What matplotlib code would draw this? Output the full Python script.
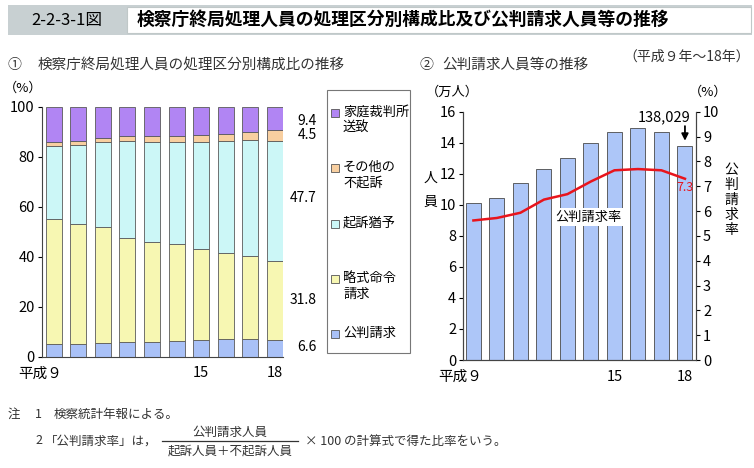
import matplotlib
matplotlib.use("Agg")
import matplotlib.pyplot as plt
import matplotlib.transforms as mtransforms
from matplotlib.patches import Rectangle
from matplotlib.lines import Line2D

plt.rcParams['font.family'] = ['Noto Sans CJK JP', 'DejaVu Sans']

# ---- data ----
years = ['平成９', '10', '11', '12', '13', '14', '15', '16', '17', '18']
kohan = [4.9, 4.9, 5.5, 5.9, 5.9, 6.4, 6.7, 6.9, 6.9, 6.6]          # 公判請求
ryakushiki = [50.3, 48.3, 46.5, 41.7, 40.1, 38.8, 36.2, 34.4, 33.5, 31.8]  # 略式命令請求
yuyo = [29.2, 31.3, 33.7, 38.5, 39.9, 40.5, 43.1, 44.8, 46.1, 47.7]  # 起訴猶予
sonota = [1.6, 1.6, 1.6, 2.0, 2.2, 2.4, 2.5, 3.1, 3.5, 4.5]          # その他の不起訴
katei = [14.0, 13.9, 12.7, 11.9, 11.9, 11.9, 11.5, 10.8, 10.0, 9.4]  # 家庭裁判所送致

persons = [10.14, 10.44, 11.40, 12.33, 13.04, 14.00, 14.69, 14.95, 14.67, 13.80]  # 万人
persons_last = 138029
rate = [5.62, 5.72, 5.93, 6.46, 6.68, 7.19, 7.64, 7.69, 7.64, 7.30]  # 公判請求率 (%)

series = [kohan, ryakushiki, yuyo, sonota, katei]
names = ['公判請求', '略式命令\n請求', '起訴猶予', 'その他の\n不起訴', '家庭裁判所\n送致']
colors = ['#a9c1f7', '#f7f7b2', '#ccf7f7', '#f8cfa0', '#b185f3']

W, H = 754, 468
fig = plt.figure(figsize=(W / 100, H / 100), dpi=100)


def fx(x):
    return x / W


def fy(y):
    return 1 - y / H


# ---- header ----
fig.patches.append(Rectangle((fx(8), fy(35)), fx(744), 30 / H, transform=fig.transFigure,
                             facecolor='#c8d0d2', edgecolor='none'))
fig.patches.append(Rectangle((fx(127), fy(33)), fx(624), 26 / H, transform=fig.transFigure,
                             facecolor='white', edgecolor='#c0c8c8', lw=0.8))
fig.text(fx(67), fy(20), '2-2-3-1図', ha='center', va='center', fontsize=12)
fig.text(fx(137), fy(20), '検察庁終局処理人員の処理区分別構成比及び公判請求人員等の推移',
         ha='left', va='center', fontsize=12.8, fontweight='bold')
fig.text(fx(7), fy(65), '①', ha='left', va='center', fontsize=10, color='#333333')
fig.text(fx(38), fy(65), '検察庁終局処理人員の処理区分別構成比の推移', ha='left', va='center',
         fontsize=10.5, color='#333333')
fig.text(fx(420), fy(65), '②', ha='left', va='center', fontsize=10, color='#333333')
fig.text(fx(442), fy(65), '公判請求人員等の推移', ha='left', va='center',
         fontsize=10.5, color='#333333')
fig.text(fx(750), fy(57), '（平成９年～18年）', ha='right', va='center', fontsize=10,
         color='#333333')


def first_label_right(ax):
    lab = ax.get_xticklabels()[0]
    lab.set_horizontalalignment('right')
    lab.set_transform(lab.get_transform() + mtransforms.ScaledTranslation(6 / 72, 0, fig.dpi_scale_trans))


# ---- left chart: composition ----
ax1 = fig.add_axes([fx(41.7), fy(356.7), 241.3 / W, 250 / H])
x = list(range(len(years)))
bottom = [0] * len(years)
for vals, c in zip(series, colors):
    ax1.bar(x, vals, width=0.65, bottom=bottom, color=c, edgecolor='#5a5a5a', linewidth=0.6)
    bottom = [b + v for b, v in zip(bottom, vals)]

ax1.set_xlim(-0.49, 9.33)
ax1.set_ylim(0, 100)
ax1.set_yticks(range(0, 101, 20))
ax1.set_xticks([0, 6, 9])
ax1.set_xticklabels([years[0], years[6], years[9]])
ax1.tick_params(axis='x', length=0, pad=7, labelsize=10.5)
ax1.tick_params(axis='y', length=3, direction='out', labelsize=10.5, pad=2)
for s in ['top', 'right']:
    ax1.spines[s].set_visible(False)
for s in ['left', 'bottom']:
    ax1.spines[s].set_color('#444444')
first_label_right(ax1)
fig.text(fx(23), fy(88), '（%）', ha='center', va='center', fontsize=9.5)

# values of the last bar
label_y = [347, 300, 198, 135, 121]
for vals, yy in zip(series, label_y):
    fig.text(fx(317), fy(yy), f'{vals[-1]:.1f}', ha='right', va='center', fontsize=10)

# legend box
fig.patches.append(Rectangle((fx(327), fy(353)), 83 / W, 263 / H, transform=fig.transFigure,
                             facecolor='white', edgecolor='#777777', lw=0.8))
leg_y = [334, 279, 224, 168, 113]
for name, c, y0 in zip(names, colors, leg_y):
    fig.patches.append(Rectangle((fx(331), fy(y0 + 4)), 8 / W, 8 / H, transform=fig.transFigure,
                                 facecolor=c, edgecolor='#555555', lw=0.6))
    fig.text(fx(343), fy(y0 - 7), name, ha='left', va='top', fontsize=9.5, linespacing=1.25)

# ---- right chart: persons and rate ----
ax2 = fig.add_axes([fx(463.3), fy(360), 232.7 / W, 248.3 / H])
ax2.bar(x, persons, width=0.64, color='#adc6f8', edgecolor='#4a4a4a', linewidth=0.6)
ax2.set_xlim(-0.43, 9.47)
ax2.set_ylim(0, 16)
ax2.set_yticks(range(0, 17, 2))
ax2.set_xticks([0, 6, 9])
ax2.set_xticklabels([years[0], years[6], years[9]])
ax2.tick_params(axis='x', length=0, pad=7, labelsize=10.5)
ax2.tick_params(axis='y', length=3, direction='out', labelsize=10.5, pad=2)
ax2.spines['top'].set_visible(False)
first_label_right(ax2)

ax3 = ax2.twinx()
ax3.plot(x, rate, color='#e8141c', lw=1.8)
ax3.set_ylim(0, 10)
ax3.set_yticks(range(0, 11))
ax3.tick_params(axis='y', length=3, direction='out', labelsize=10.5, pad=2)
ax3.spines['top'].set_visible(False)
for a in (ax2, ax3):
    for s in a.spines.values():
        s.set_color('#444444')

ax3.text(4.9, 5.76, '公判請求率', ha='center', va='center', fontsize=9.5,
         bbox=dict(facecolor='white', edgecolor='none', pad=2))
ax3.text(9, 6.93, f'{rate[-1]:.1f}', ha='center', va='center', fontsize=9, color='#e8141c')
ax2.text(8.1, 15.65, f'{persons_last:,}', ha='center', va='center', fontsize=10.5)
ax2.annotate('', xy=(9, 13.95), xytext=(9, 15.25),
             arrowprops=dict(arrowstyle='-|>', color='black', lw=1.3, mutation_scale=10))

fig.text(fx(452), fy(92), '（万人）', ha='center', va='center', fontsize=9.5)
fig.text(fx(708), fy(92), '（%）', ha='center', va='center', fontsize=9.5)
fig.text(fx(430), fy(178), '人', ha='center', va='center', fontsize=10)
fig.text(fx(430), fy(202), '員', ha='center', va='center', fontsize=10)
fig.text(fx(731), fy(200), '公\n判\n請\n求\n率', ha='center', va='center', fontsize=10,
         linespacing=1.1)

# ---- notes ----
nc = '#333333'
fig.text(fx(8), fy(414), '注', ha='left', va='center', fontsize=9, color=nc)
fig.text(fx(35), fy(414), '1', ha='left', va='center', fontsize=9, color=nc)
fig.text(fx(54), fy(414), '検察統計年報による。', ha='left', va='center', fontsize=9, color=nc)
fig.text(fx(35), fy(441), '2', ha='left', va='center', fontsize=9, color=nc)
fig.text(fx(45), fy(441), '「公判請求率」は，', ha='left', va='center', fontsize=9, color=nc)
fig.text(fx(230), fy(432), '公判請求人員', ha='center', va='center', fontsize=9, color=nc)
fig.add_artist(Line2D([fx(162), fx(298)], [fy(441), fy(441)], transform=fig.transFigure,
                      color=nc, lw=0.9))
fig.text(fx(230), fy(451), '起訴人員＋不起訴人員', ha='center', va='center', fontsize=9, color=nc)
fig.text(fx(305), fy(441), '× 100 の計算式で得た比率をいう。', ha='left', va='center',
         fontsize=9, color=nc)

fig.savefig('out.png', dpi=100)
